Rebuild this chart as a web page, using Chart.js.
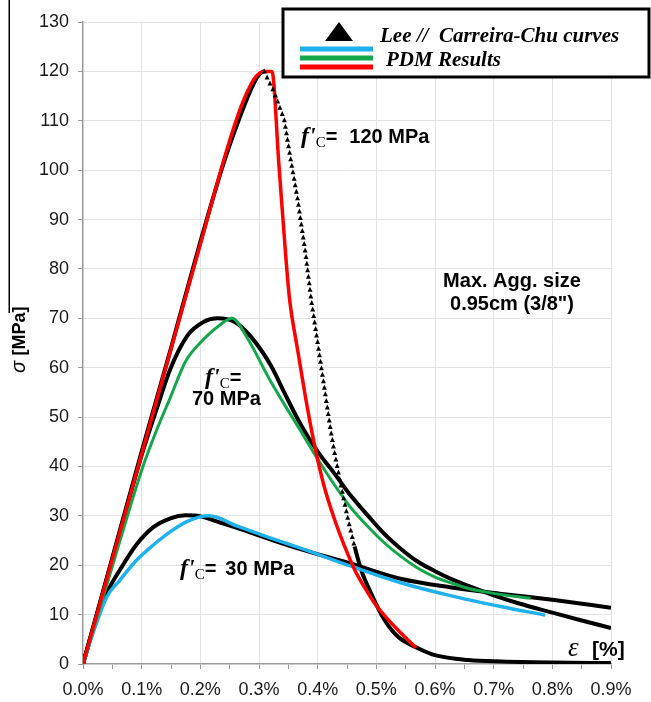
<!DOCTYPE html>
<html lang="en">
<head>
<meta charset="UTF-8">
<title>Stress-strain curves</title>
<script src="https://cdn.jsdelivr.net/npm/chart.js"></script>
<style>
    html, body {
        margin: 0;
        padding: 0;
        background: #ffffff;
        overflow: hidden;
    }
    #chart { display: block; }
</style>
</head>
<body>
<canvas id="chart" width="651" height="702"></canvas>
<script>
    // [strain %, stress MPa]
    const lee120 = [[0,0],[0.05,21.5],[0.1,43],[0.15,64],[0.2,85.5],[0.24,101.5],[0.265,110],[0.285,116],[0.298,119],[0.309,120],
        [0.326,115.8],[0.343,110.3],[0.354,102.2],[0.366,94.1],[0.38,82.6],[0.389,73.8],[0.406,60.3],[0.422,47.5],[0.429,42.7],
        [0.44,36],[0.452,29.2],[0.463,23.8],[0.474,19.1],[0.491,14.3],[0.514,8.9],[0.537,5.5],[0.571,3.2],[0.6,1.8],[0.657,0.8],
        [0.714,0.5],[0.8,0.3],[0.9,0.2]];
    const lee70 = [[0,0],[0.05,21.2],[0.1,42.3],[0.126,51.8],[0.149,59.8],[0.178,66.5],[0.206,69.3],[0.229,70],[0.258,69.3],
        [0.286,66.3],[0.32,60.5],[0.343,55],[0.372,48.3],[0.4,43],[0.429,38.5],[0.457,34],[0.486,30],[0.514,26.3],[0.543,23.2],
        [0.571,20.7],[0.6,18.8],[0.628,17.2],[0.657,15.8],[0.7,13.9],[0.742,12.3],[0.8,10.4],[0.85,8.8],[0.9,7.3]];
    const lee30 = [[0,0],[0.02,8],[0.041,14.5],[0.063,19.1],[0.092,24.3],[0.12,27.7],[0.149,29.5],[0.175,30.1],[0.2,29.9],
        [0.235,28.6],[0.274,27.1],[0.32,25.2],[0.372,23.2],[0.457,20.3],[0.543,17.2],[0.628,15.5],[0.714,14.2],[0.8,13],[0.9,11.4]];
    const pdm120 = [[0,0],[0.1,42.5],[0.2,85],[0.25,106],[0.275,114.5],[0.295,119],[0.31,120],[0.322,120],[0.334,101],[0.346,82],
        [0.352,74],[0.366,63.5],[0.383,51.5],[0.397,43],[0.411,36],[0.429,29.2],[0.446,23.8],[0.463,19.1],[0.48,15.5],[0.497,12.3],
        [0.514,9.8],[0.531,7.6],[0.55,5.3],[0.568,3.3]];
    const pdm70 = [[0,0],[0.05,19.8],[0.1005,39.4],[0.126,47.5],[0.149,54],[0.175,61.3],[0.206,65.8],[0.235,68.8],[0.254,70],
        [0.28,66],[0.32,57.2],[0.372,47],[0.4,41.5],[0.429,36.2],[0.457,31.6],[0.486,27.8],[0.514,24.5],[0.543,21.7],[0.571,19.4],
        [0.6,17.6],[0.628,16.4],[0.657,15.3],[0.7,14.3],[0.763,13.3]];
    const pdm30 = [[0,0],[0.02,7.3],[0.041,13.7],[0.063,17],[0.092,21.1],[0.12,24.1],[0.149,26.8],[0.178,28.9],[0.215,30],
        [0.263,27.9],[0.32,25.5],[0.372,23.4],[0.457,19.8],[0.543,16.4],[0.628,13.8],[0.714,11.6],[0.788,9.9]];

    // strain range of the 120 MPa Lee curve shown as a trail of triangles
    const triangleRange = [0.309, 0.465];

    const strainLabels = ['0.0%', '0.1%', '0.2%', '0.3%', '0.4%', '0.5%', '0.6%', '0.7%', '0.8%', '0.9%'];
    const stressLabels = ['0', '10', '20', '30', '40', '50', '60', '70', '80', '90', '100', '110', '120', '130'];

    const SANS = '"Liberation Sans", Arial, sans-serif';
    const SERIF = '"Liberation Serif", "Times New Roman", serif';

    const toXY = arr => arr.map(p => ({ x: p[0], y: p[1] }));
    const inTriangles = i => lee120[i][0] >= triangleRange[0] && lee120[i + 1] && lee120[i + 1][0] <= triangleRange[1];

    function line(data, color, width, extra) {
        return Object.assign({
            data: toXY(data),
            borderColor: color,
            borderWidth: width,
            showLine: true,
            pointRadius: 0,
            cubicInterpolationMode: 'monotone',
            fill: false
        }, extra || {});
    }

    // triangles stamped along the dashed part of the Lee 120 curve
    const trianglePlugin = {
        id: 'triangles',
        afterDatasetsDraw(chart) {
            const meta = chart.getDatasetMeta(3);
            const pts = meta.data;
            const ctx = chart.ctx;
            const step = 6.6;
            let carry = 0;
            ctx.save();
            ctx.fillStyle = '#000';
            for (let i = 0; i < pts.length - 1; i++) {
                if (!inTriangles(i)) continue;
                const a = pts[i], b = pts[i + 1];
                const len = Math.hypot(b.x - a.x, b.y - a.y);
                let d = carry;
                while (d <= len) {
                    const t = d / len;
                    const x = a.x + (b.x - a.x) * t;
                    const y = a.y + (b.y - a.y) * t;
                    ctx.beginPath();
                    ctx.moveTo(x, y - 2.9);
                    ctx.lineTo(x + 2.5, y + 2.1);
                    ctx.lineTo(x - 2.5, y + 2.1);
                    ctx.closePath();
                    ctx.fill();
                    d += step;
                }
                carry = d - len;
            }
            ctx.restore();
        }
    };

    function drawFc(ctx, x, y, size) {
        ctx.font = 'italic bold ' + (size + 4) + 'px ' + SERIF;
        ctx.fillText("f'", x, y);
        let w = ctx.measureText("f'").width;
        ctx.font = (size - 5) + 'px ' + SERIF;
        ctx.fillText('C', x + w, y + 4);
        w += ctx.measureText('C').width;
        ctx.font = 'bold ' + size + 'px ' + SANS;
        ctx.fillText('=', x + w, y);
        return x + w + ctx.measureText('=').width;
    }

    const textPlugin = {
        id: 'texts',
        afterDraw(chart) {
            const ctx = chart.ctx;
            ctx.save();
            ctx.fillStyle = '#000';
            ctx.textBaseline = 'alphabetic';
            ctx.textAlign = 'left';

            // rule at the left edge
            ctx.fillRect(8.5, 0, 1.5, 313);

            // curve labels
            let e = drawFc(ctx, 301, 143, 20);
            ctx.font = 'bold 20px ' + SANS;
            ctx.fillText('120 MPa', e + 12, 143);

            drawFc(ctx, 205, 384, 20);
            ctx.fillText('70 MPa', 192, 405);

            e = drawFc(ctx, 180, 575, 20);
            ctx.font = 'bold 20px ' + SANS;
            ctx.fillText('30 MPa', e + 9, 575);

            ctx.textAlign = 'center';
            ctx.font = 'bold 20px ' + SANS;
            ctx.fillText('Max. Agg. size', 512, 287);
            ctx.fillText('0.95cm (3/8")', 512, 310);

            // axis titles
            ctx.textAlign = 'left';
            ctx.font = 'italic 27px ' + SERIF;
            ctx.fillText('\u03b5', 568, 656);
            ctx.font = 'bold 21px ' + SANS;
            ctx.fillText('[%]', 592, 656);

            ctx.save();
            ctx.translate(25, 373);
            ctx.rotate(-Math.PI / 2);
            ctx.font = 'italic 20px ' + SANS;
            ctx.fillText('\u03c3', 0, 0);
            const sw = ctx.measureText('\u03c3 ').width;
            ctx.font = 'bold 18px ' + SANS;
            ctx.fillText('[MPa]', sw, 0);
            ctx.restore();

            // legend box
            ctx.fillStyle = '#fff';
            ctx.fillRect(283, 9, 366, 68);
            ctx.strokeStyle = '#000';
            ctx.lineWidth = 3;
            ctx.strokeRect(283, 9, 366, 68);
            ctx.fillStyle = '#000';
            ctx.beginPath();
            ctx.moveTo(339, 22);
            ctx.lineTo(353, 41);
            ctx.lineTo(325, 41);
            ctx.closePath();
            ctx.fill();
            ctx.font = 'italic bold 21px ' + SERIF;
            ctx.fillText('Lee //  Carreira-Chu curves', 380, 42);
            ctx.fillText('PDM Results', 386, 66);
            const legendLines = [['#1fb1ec', 49], ['#14a64a', 58], ['#ff0000', 67]];
            legendLines.forEach(l => {
                ctx.fillStyle = l[0];
                ctx.fillRect(300, l[1] - 2.5, 73, 5);
            });
            ctx.restore();
        }
    };

    const config = {
        type: 'scatter',
        data: {
            datasets: [
                line(pdm120, '#ff0000', 3.5),
                line(pdm70, '#14a64a', 3),
                line(pdm30, '#1fb1ec', 3.5),
                line(lee120, '#000000', 4, {
                    segment: {
                        borderColor: c => inTriangles(c.p0DataIndex) ? 'rgba(0,0,0,0)' : '#000000'
                    }
                }),
                line(lee70, '#000000', 4),
                line(lee30, '#000000', 4)
            ]
        },
        options: {
            responsive: false,
            animation: false,
            devicePixelRatio: 1,
            layout: { padding: { top: 22, right: 40, left: 0, bottom: 0 } },
            plugins: {
                legend: { display: false },
                tooltip: { enabled: false }
            },
            scales: {
                x: {
                    type: 'linear',
                    min: 0,
                    max: 0.9,
                    afterFit: s => { s.height = 38; },
                    afterBuildTicks: s => {
                        s.ticks = [];
                        for (let i = 0; i <= 18; i++) s.ticks.push({ value: i * 0.05 });
                    },
                    border: { color: '#9a9a9a', width: 1.5 },
                    grid: {
                        color: c => (c.index % 2 === 0 && c.index > 0) ? '#e3e3e3' : 'rgba(0,0,0,0)',
                        tickColor: '#9a9a9a',
                        tickLength: 5,
                        lineWidth: 1
                    },
                    ticks: {
                        autoSkip: false,
                        maxRotation: 0,
                        padding: 10,
                        color: '#1a1a1a',
                        font: { family: SANS, size: 18 },
                        callback: (v, i) => i % 2 === 0 ? strainLabels[i / 2] : ''
                    }
                },
                y: {
                    min: 0,
                    max: 130,
                    afterFit: s => { s.width = 83; },
                    border: { color: '#9a9a9a', width: 1.5 },
                    grid: {
                        color: c => c.index > 0 ? '#e3e3e3' : 'rgba(0,0,0,0)',
                        tickColor: '#9a9a9a',
                        tickLength: 5,
                        lineWidth: 1
                    },
                    ticks: {
                        stepSize: 10,
                        padding: 9,
                        color: '#1a1a1a',
                        font: { family: SANS, size: 18 },
                        callback: (v, i) => stressLabels[i]
                    }
                }
            }
        },
        plugins: [trianglePlugin, textPlugin]
    };

    const chart = new Chart(document.getElementById('chart'), config);
</script>
</body>
</html>
